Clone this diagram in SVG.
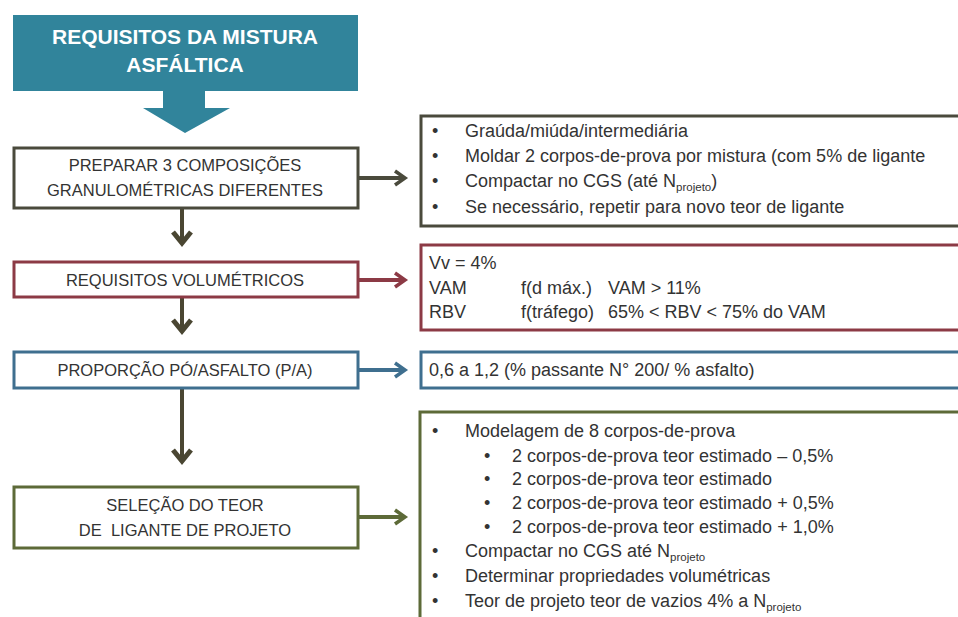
<svg xmlns="http://www.w3.org/2000/svg" width="958" height="617" viewBox="0 0 958 617">
<style>
.lt{font-family:"Liberation Sans",Arial,sans-serif;font-size:16.5px;fill:#333;text-anchor:middle}
.rt{font-family:"Liberation Sans",Arial,sans-serif;font-size:18px;fill:#333}
.sub{font-size:11.5px}
.title{font-family:"Liberation Sans",Arial,sans-serif;font-size:21px;font-weight:bold;fill:#fff;text-anchor:middle}
.box{fill:#fff;stroke-width:3}
.c{fill:none;stroke-width:4}
</style>
<defs>
<marker id="mDark" markerUnits="userSpaceOnUse" viewBox="0 0 22 22" refX="17" refY="11" markerWidth="22" markerHeight="22" orient="auto"><path d="M6 2 L17 11 L6 20" fill="none" stroke="#4a4632" stroke-width="5"/></marker>
<marker id="mBox" markerUnits="userSpaceOnUse" viewBox="0 0 20 20" refX="16" refY="10" markerWidth="20" markerHeight="20" orient="auto"><path d="M6 3 L16 10 L6 17" fill="none" stroke="#4a4a3c" stroke-width="3.5"/></marker>
<marker id="mRed" markerUnits="userSpaceOnUse" viewBox="0 0 20 20" refX="16" refY="10" markerWidth="20" markerHeight="20" orient="auto"><path d="M6 3 L16 10 L6 17" fill="none" stroke="#8c3a45" stroke-width="3.5"/></marker>
<marker id="mBlue" markerUnits="userSpaceOnUse" viewBox="0 0 20 20" refX="16" refY="10" markerWidth="20" markerHeight="20" orient="auto"><path d="M6 3 L16 10 L6 17" fill="none" stroke="#3f6f8f" stroke-width="3.5"/></marker>
<marker id="mGreen" markerUnits="userSpaceOnUse" viewBox="0 0 20 20" refX="16" refY="10" markerWidth="20" markerHeight="20" orient="auto"><path d="M6 3 L16 10 L6 17" fill="none" stroke="#5d6a38" stroke-width="3.5"/></marker>
</defs>
<rect width="958" height="617" fill="#fff"/>

<g id="title">
<rect x="13" y="15" width="345" height="76" fill="#31849b"/>
<polygon points="163,90 205,90 205,108 230,108 185,133 143,108 163,108" fill="#31849b"/>
<text class="title" x="185" y="44">REQUISITOS DA MISTURA</text>
<text class="title" x="185" y="72">ASFÁLTICA</text>
</g>

<g id="connectors">
<line class="c" x1="182" y1="209" x2="182" y2="243" stroke="#4a4632" marker-end="url(#mDark)"/>
<line class="c" x1="182" y1="298" x2="182" y2="331" stroke="#4a4632" marker-end="url(#mDark)"/>
<line class="c" x1="182" y1="389" x2="182" y2="461" stroke="#4a4632" marker-end="url(#mDark)"/>
<line class="c" x1="358" y1="178" x2="405" y2="178" stroke="#4a4a3c" stroke-width="3" marker-end="url(#mBox)"/>
<line class="c" x1="358" y1="280" x2="405" y2="280" stroke="#8c3a45" stroke-width="3" marker-end="url(#mRed)"/>
<line class="c" x1="358" y1="370" x2="405" y2="370" stroke="#3f6f8f" stroke-width="3" marker-end="url(#mBlue)"/>
<line class="c" x1="358" y1="517" x2="405" y2="517" stroke="#5d6a38" stroke-width="3" marker-end="url(#mGreen)"/>
</g>

<g id="preparar">
<rect class="box" x="14" y="148" width="344" height="60" stroke="#4a4a3c"/>
<text class="lt" x="185" y="171">PREPARAR 3 COMPOSIÇÕES</text>
<text class="lt" x="185" y="196">GRANULOMÉTRICAS DIFERENTES</text>
</g>

<g id="volumetricos">
<rect class="box" x="14" y="262" width="344" height="35" stroke="#8c3a45"/>
<text class="lt" x="185" y="286">REQUISITOS VOLUMÉTRICOS</text>
</g>

<g id="proporcao">
<rect class="box" x="14" y="352" width="344" height="36" stroke="#3f6f8f"/>
<text class="lt" x="185" y="376">PROPORÇÃO PÓ/ASFALTO (P/A)</text>
</g>

<g id="selecao">
<rect class="box" x="14" y="487" width="344" height="61" stroke="#5d6a38"/>
<text class="lt" x="185" y="511">SELEÇÃO DO TEOR</text>
<text class="lt" x="185" y="536" xml:space="preserve">DE  LIGANTE DE PROJETO</text>
</g>

<g id="detalhe-preparar">
<rect class="box" x="421" y="116" width="545" height="110" stroke="#4a4a3c"/>
<g class="rt">
<text x="432" y="137">•</text><text x="465" y="137">Graúda/miúda/intermediária</text>
<text x="432" y="162">•</text><text x="465" y="162">Moldar 2 corpos-de-prova por mistura (com 5% de ligante</text>
<text x="432" y="187">•</text><text x="465" y="187">Compactar no CGS (até N<tspan class="sub" dy="4">projeto</tspan><tspan dy="-4">)</tspan></text>
<text x="432" y="213">•</text><text x="465" y="213">Se necessário, repetir para novo teor de ligante</text>
</g>
</g>

<g id="detalhe-volumetricos">
<rect class="box" x="421" y="245" width="545" height="85" stroke="#8c3a45"/>
<g class="rt">
<text x="429" y="269">Vv = 4%</text>
<text x="429" y="294">VAM</text><text x="521" y="294">f(d máx.)</text><text x="608" y="294">VAM &gt; 11%</text>
<text x="429" y="318">RBV</text><text x="521" y="318">f(tráfego)</text><text x="608" y="318">65% &lt; RBV &lt; 75% do VAM</text>
</g>
</g>

<g id="detalhe-proporcao">
<rect class="box" x="421" y="352" width="545" height="36" stroke="#3f6f8f"/>
<text class="rt" x="429" y="376">0,6 a 1,2 (% passante N° 200/ % asfalto)</text>
</g>

<g id="detalhe-selecao">
<rect class="box" x="420" y="412" width="546" height="220" stroke="#5d6a38"/>
<g class="rt">
<text x="432" y="437">•</text><text x="465" y="437">Modelagem de 8 corpos-de-prova</text>
<text x="484" y="462">•</text><text x="512" y="462">2 corpos-de-prova teor estimado – 0,5%</text>
<text x="484" y="485">•</text><text x="512" y="485">2 corpos-de-prova teor estimado</text>
<text x="484" y="509">•</text><text x="512" y="509">2 corpos-de-prova teor estimado + 0,5%</text>
<text x="484" y="533">•</text><text x="512" y="533">2 corpos-de-prova teor estimado + 1,0%</text>
<text x="432" y="557">•</text><text x="465" y="557">Compactar no CGS até N<tspan class="sub" dy="4">projeto</tspan></text>
<text x="432" y="582">•</text><text x="465" y="582">Determinar propriedades volumétricas</text>
<text x="432" y="607">•</text><text x="465" y="607">Teor de projeto teor de vazios 4% a N<tspan class="sub" dy="4">projeto</tspan></text>
</g>
</g>
</svg>
